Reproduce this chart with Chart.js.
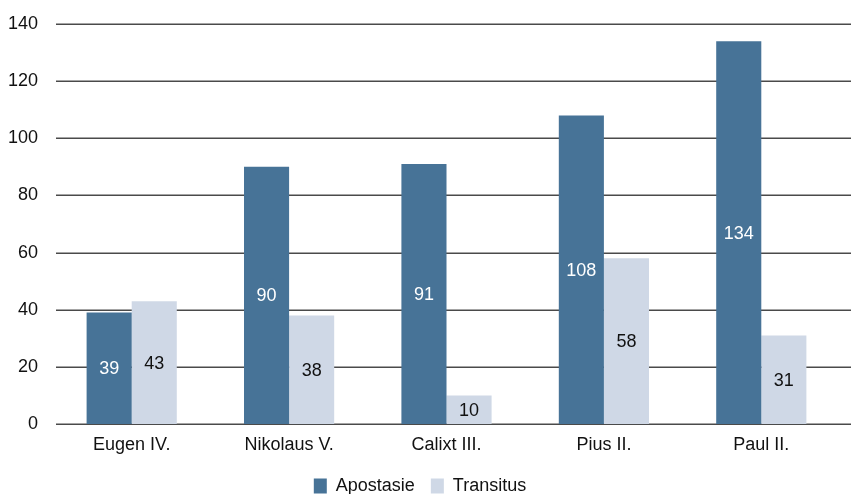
<!DOCTYPE html>
<html>
<head>
<meta charset="utf-8">
<script src="https://cdn.jsdelivr.net/npm/chart.js@4"></script>
<style>
  html, body { margin: 0; padding: 0; background: #fff; }
  #wrap { width: 851px; height: 494px; }
</style>
</head>
<body>
<div id="wrap"><canvas id="grafico"></canvas></div>
<script>
const paepste = ['Eugen IV.', 'Nikolaus V.', 'Calixt III.', 'Pius II.', 'Paul II.'];
const apostasie = [39, 90, 91, 108, 134];
const transitus = [43, 38, 10, 58, 31];
const yTicks = [0, 20, 40, 60, 80, 100, 120, 140];

const FONT = '"Liberation Sans", Arial, Helvetica, sans-serif';

// Gitterlinien etwas breiter als die Zeichenfläche
const gitter = {
    id: 'gitter',
    beforeDatasetsDraw(chart) {
        const ctx = chart.ctx;
        const y = chart.scales.y;
        ctx.save();
        ctx.strokeStyle = '#4a4a4a';
        ctx.lineWidth = 1.5;
        yTicks.forEach(v => {
            const py = Math.round(y.getPixelForValue(v)) + 0.25;
            ctx.beginPath();
            ctx.moveTo(56, py);
            ctx.lineTo(chart.width, py);
            ctx.stroke();
        });
        ctx.restore();
    }
};

// Werte mittig in die Balken schreiben
const werte = {
    id: 'werte',
    afterDatasetsDraw(chart) {
        const ctx = chart.ctx;
        ctx.save();
        ctx.font = '18px ' + FONT;
        ctx.textAlign = 'center';
        ctx.textBaseline = 'middle';
        chart.data.datasets.forEach((ds, i) => {
            const meta = chart.getDatasetMeta(i);
            ctx.fillStyle = i === 0 ? '#ffffff' : '#111111';
            meta.data.forEach((bar, j) => {
                ctx.fillText(String(ds.data[j]), bar.x, (bar.y + bar.base) / 2 + 1);
            });
        });
        ctx.restore();
    }
};

new Chart(document.getElementById('grafico'), {
    type: 'bar',
    data: {
        labels: paepste,
        datasets: [
            { label: 'Apostasie', data: apostasie, backgroundColor: '#477397' },
            { label: 'Transitus', data: transitus, backgroundColor: '#cfd8e6' }
        ]
    },
    options: {
        responsive: true,
        maintainAspectRatio: false,
        animation: false,
        events: [],
        layout: { padding: { top: 24, right: 11, left: 0, bottom: -11 } },
        datasets: { bar: { categoryPercentage: 0.573, barPercentage: 1 } },
        scales: {
            x: {
                afterFit(scale) { scale.height = 37; },
                grid: { display: false },
                border: { display: false },
                ticks: { color: '#111', font: { family: FONT, size: 18 }, padding: 2 }
            },
            y: {
                min: 0,
                max: 140,
                afterFit(scale) { scale.width = 53; },
                afterBuildTicks(scale) { scale.ticks = yTicks.map(v => ({ value: v })); },
                grid: { display: false },
                border: { display: false },
                ticks: { color: '#111', font: { family: FONT, size: 18 }, padding: 7 }
            }
        },
        plugins: {
            tooltip: { enabled: false },
            legend: {
                position: 'bottom',
                labels: {
                    color: '#111',
                    font: { family: FONT, size: 18 },
                    boxWidth: 13,
                    boxHeight: 15,
                    padding: 16
                }
            }
        }
    },
    plugins: [gitter, werte]
});
</script>
</body>
</html>
